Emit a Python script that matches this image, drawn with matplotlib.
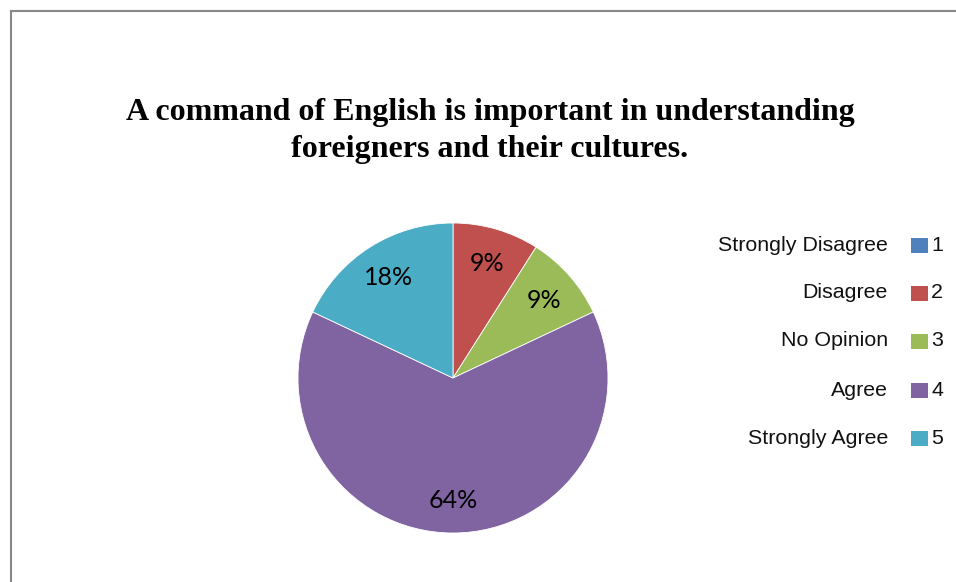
import matplotlib
matplotlib.use("Agg")
import matplotlib.pyplot as plt
from matplotlib.patches import Rectangle

# survey responses, share of respondents per answer
categories = ["Strongly Disagree", "Disagree", "No Opinion", "Agree", "Strongly Agree"]
codes = ["1", "2", "3", "4", "5"]
shares = [0, 9, 9, 64, 18]
colors = ["#4f81bd", "#c0504d", "#9bbb59", "#8064a2", "#4bacc6"]

title = "A command of English is important in understanding\nforeigners and their cultures."

W, H = 956, 582
fig = plt.figure(figsize=(W / 100, H / 100), dpi=100)

# grey frame around the chart area
fig.add_artist(plt.Line2D([11 / W, 11 / W], [0, 1 - 11 / H], color="#888888", lw=1.5))
fig.add_artist(plt.Line2D([11 / W, 1], [1 - 11 / H, 1 - 11 / H], color="#888888", lw=1.5))

fig.text(490 / W, 1 - 131 / H, title, ha="center", va="center",
         family="Liberation Serif", weight="bold", fontsize=23, linespacing=1.36)

# pie centred at (453, 378) px with radius 155 px
cx, cy, r = 453, 378, 155
ax = fig.add_axes([(cx - r) / W, (H - cy - r) / H, 2 * r / W, 2 * r / H])


def pct(v):
    return "" if v < 0.5 else "%d%%" % round(v)


wedges, _, autotexts = ax.pie(shares, colors=colors, startangle=90, counterclock=False,
                              autopct=pct, pctdistance=0.78, radius=1,
                              wedgeprops=dict(edgecolor="white", linewidth=0.6))
for t in autotexts:
    t.set_family("Lato")
    t.set_fontsize(18)
    t.set_color("black")
    t.set_va("center_baseline")
ax.set_xlim(-1, 1)
ax.set_ylim(-1, 1)
ax.set_aspect("equal")
ax.axis("off")

# legend: name on the left, swatch, then the answer code
row_y = [245, 293, 341, 390, 438]
for name, code, col, y in zip(categories, codes, colors, row_y):
    fig.text(888 / W, 1 - y / H, name, ha="right", va="center",
             family="Liberation Sans", fontsize=15.4, color="#111111")
    fig.add_artist(Rectangle((911 / W, 1 - (y + 8) / H), 17 / W, 15 / H,
                             facecolor=col, edgecolor="none", transform=fig.transFigure))
    fig.text(931 / W, 1 - y / H, code, ha="left", va="center",
             family="Liberation Sans", fontsize=15.4, color="#111111")

fig.savefig("out.png", dpi=100)
